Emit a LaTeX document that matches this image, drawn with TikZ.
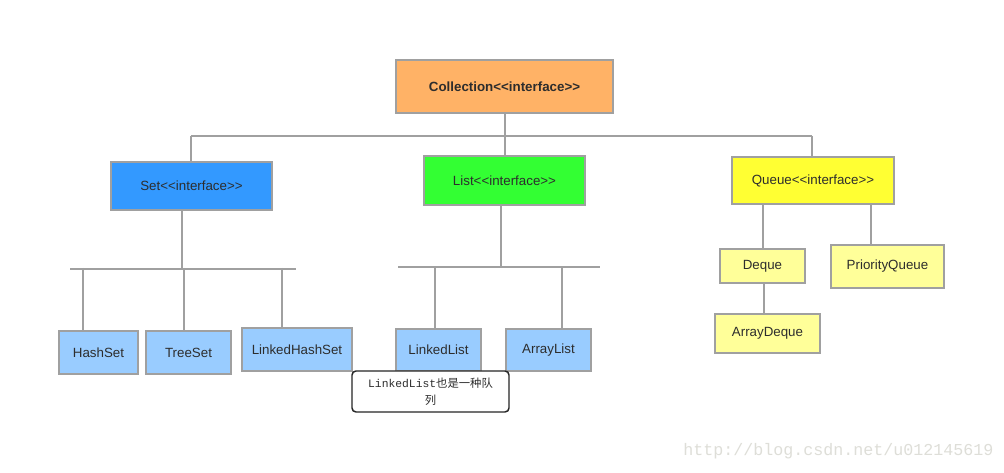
\documentclass[tikz,border=0pt]{standalone}
\usepackage{fontspec}
\setmainfont{Liberation Sans}
\setmonofont{Liberation Mono}
\newfontfamily\cjk{Noto Sans CJK SC}
\usetikzlibrary{positioning}
\definecolor{linegray}{RGB}{160,160,160}
\definecolor{txtgray}{RGB}{45,45,45}
\definecolor{collorange}{RGB}{255,178,102}
\definecolor{setblue}{RGB}{51,153,255}
\definecolor{listgreen}{RGB}{51,255,51}
\definecolor{queueyellow}{RGB}{255,255,51}
\definecolor{implblue}{RGB}{153,204,255}
\definecolor{implyellow}{RGB}{255,255,153}
\definecolor{markgray}{RGB}{222,222,216}
\newcommand\iface{\mbox{<}\mbox{<}interface\mbox{>}\mbox{>}}
\tikzset{
  boxsize/.style 2 args={minimum width=#1*0.75pt, minimum height=#2*0.75pt},
  cls/.style={draw=linegray, line width=1.5pt, text=txtgray, inner sep=0pt,
    font=\fontsize{10}{12}\selectfont},
  link/.style={draw=linegray, line width=1.5pt},
}

\begin{document}
\begin{tikzpicture}[x=0.75pt,y=-0.75pt]
 \fill[white] (0,0) rectangle (1004,473);
 \useasboundingbox (0,0) rectangle (1004,473);
 % interfaces
 \node[cls, fill=collorange, boxsize={217}{53}, font=\bfseries\fontsize{10}{12}\selectfont]
      (coll) at (504.5,86.5) {Collection\iface};
 \node[cls, fill=setblue, boxsize={161}{48}] (set) at (191.5,186) {Set\iface};
 \node[cls, fill=listgreen, boxsize={161}{49}] (list) at (504.5,180.5) {List\iface};
 \node[cls, fill=queueyellow, boxsize={162}{47}] (queue) at (813,180.5) {Queue\iface};
 % implementations
 \node[cls, fill=implblue, boxsize={79}{43}] (hashset) at (98.5,352.5) {HashSet};
 \node[cls, fill=implblue, boxsize={85}{43}] (treeset) at (188.5,352.5) {TreeSet};
 \node[cls, fill=implblue, boxsize={110}{43}] (lhset) at (297,349.5) {LinkedHashSet};
 \node[cls, fill=implblue, boxsize={85}{42}] (linkedlist) at (438.5,350) {LinkedList};
 \node[cls, fill=implblue, boxsize={85}{42}] (arraylist) at (548.5,350) {ArrayList};
 \node[cls, fill=implyellow, boxsize={85}{34}] (deque) at (762.5,266) {Deque};
 \node[cls, fill=implyellow, boxsize={113}{43}] (pqueue) at (887.5,266.5) {PriorityQueue};
 \node[cls, fill=implyellow, boxsize={105}{39}] (adeque) at (767.5,333.5) {ArrayDeque};

 % top level
 \coordinate (tbl) at (191,136);
 \coordinate (tbr) at (812,136);
 \draw[link] (tbl) -- (tbr);
 \draw[link] (coll.south) -- (list.north);
 \draw[link] (tbl) -- (tbl |- set.north);
 \draw[link] (tbr) -- (tbr |- queue.north);

 % set branch
 \coordinate (sdrop) at (182,269);
 \draw[link] (sdrop |- set.south) -- (sdrop);
 \draw[link] (70,269) coordinate (sbl) -- (296,269) coordinate (sbr);
 \foreach \nm/\xx in {hashset/83, treeset/184, lhset/282}{
   \path (\xx,268) coordinate (top-\nm);
   \draw[link] (top-\nm) -- (top-\nm |- \nm.north);
 }

 % list branch
 \coordinate (ldrop) at (501,267);
 \draw[link] (ldrop |- list.south) -- (ldrop);
 \draw[link] (398,267) coordinate (lbl) -- (600,267) coordinate (lbr);
 \foreach \nm/\xx in {linkedlist/435, arraylist/562}{
   \path (\xx,267) coordinate (top-\nm);
   \draw[link] (top-\nm) -- (top-\nm |- \nm.north);
 }

 % queue branch
 \coordinate (qd) at (763,204);
 \coordinate (qp) at (871,204);
 \draw[link] (qd |- queue.south) -- (qd |- deque.north);
 \draw[link] (qp |- queue.south) -- (qp |- pqueue.north);
 \coordinate (dd) at (764,283);
 \draw[link] (dd |- deque.south) -- (dd |- adeque.north);

 % note
 \node[draw=black!85, line width=1.1pt, rounded corners=3pt, fill=white, text=txtgray,
       boxsize={157}{41}, inner sep=0pt, align=center,
       font=\ttfamily\fontsize{8.5}{12.75}\selectfont]
      (note) at (430.5,391.5) {LinkedList{\cjk 也是一种队}\\{\cjk 列}};

 % watermark
 \node[text=markgray, inner sep=0pt, anchor=base west,
       font=\ttfamily\fontsize{12.5}{14}\selectfont]
      (mark) at (683,456) {http://blog.csdn.net/u012145619};
\end{tikzpicture}
\end{document}
